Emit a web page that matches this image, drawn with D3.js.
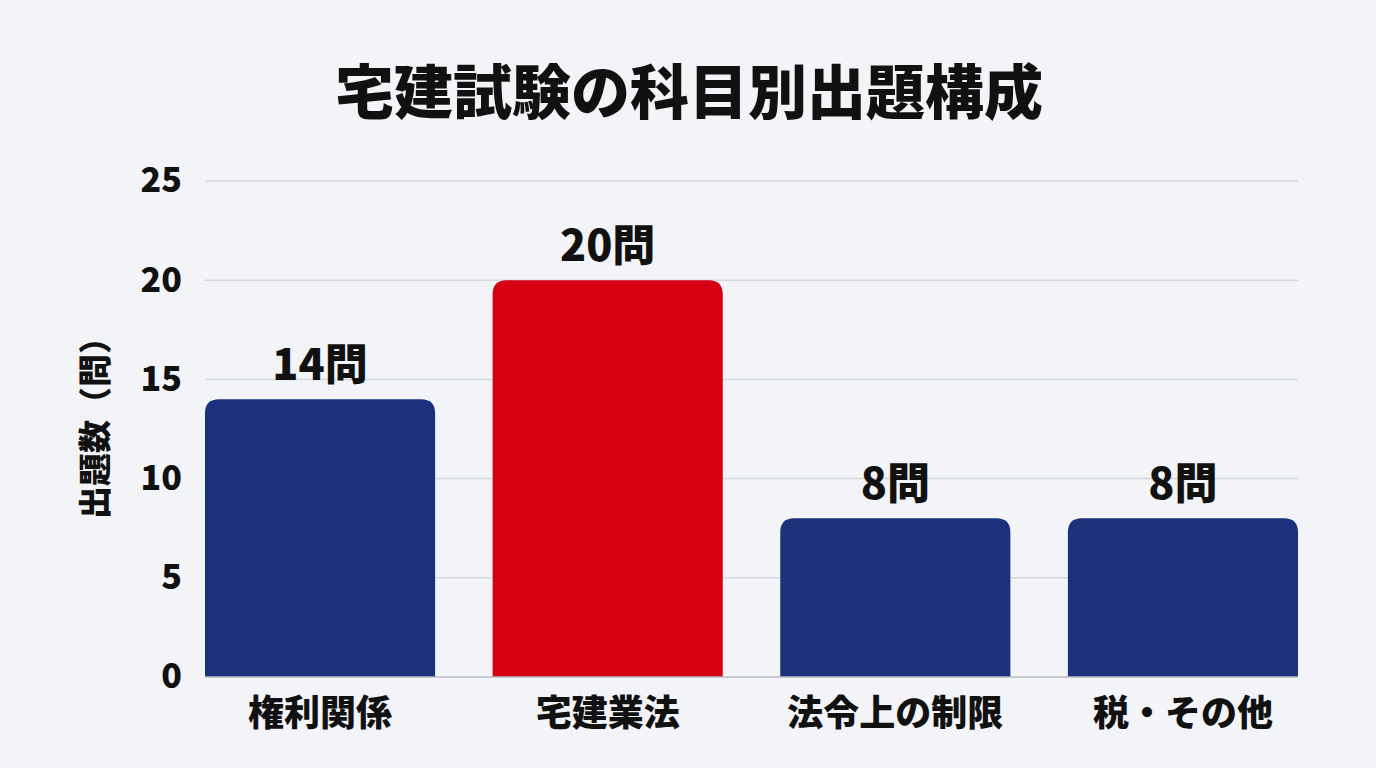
<!DOCTYPE html>
<html>
<head>
<meta charset="utf-8">
<script src="https://cdn.jsdelivr.net/npm/d3@7"></script>
<style>
  html, body { margin: 0; padding: 0; background: #f2f4f8; }
  svg { display: block; font-family: "Noto Sans CJK JP", "Noto Sans", sans-serif; }
</style>
</head>
<body>
<div id="container"></div>
<script>
const categories = ["権利関係", "宅建業法", "法令上の制限", "税・その他"];
const counts = [14, 20, 8, 8];
const yTicks = [0, 5, 10, 15, 20, 25];
const highlight = "宅建業法";

const width = 1376;
const height = 768;
const margin = { top: 181, right: 78, bottom: 91, left: 205 };

const svg = d3.select("#container").append("svg")
  .attr("width", width)
  .attr("height", height);

svg.append("rect").attr("width", width).attr("height", height).attr("fill", "#f2f4f8");

const x = d3.scaleBand()
  .domain(categories)
  .range([margin.left, width - margin.right])
  .paddingInner(0.2)
  .paddingOuter(0);

const y = d3.scaleLinear()
  .domain([0, 25])
  .range([height - margin.bottom, margin.top]);

// title
svg.append("text")
  .attr("x", width / 2 + 1)
  .attr("y", 114)
  .attr("text-anchor", "middle")
  .attr("font-size", 59)
  .attr("font-weight", 900)
  .attr("fill", "#111")
  .text("宅建試験の科目別出題構成");

// gridlines
svg.append("g")
  .selectAll("line")
  .data(yTicks.filter(d => d > 0))
  .join("line")
  .attr("x1", margin.left)
  .attr("x2", width - margin.right)
  .attr("y1", d => y(d))
  .attr("y2", d => y(d))
  .attr("stroke", "#d3d6dc")
  .attr("stroke-width", 1.5);

// y axis labels
const yAxis = d3.axisLeft(y).tickValues(yTicks).tickSize(0).tickPadding(23);
const gy = svg.append("g")
  .attr("transform", `translate(${margin.left},0)`)
  .call(yAxis);
gy.select(".domain").remove();
gy.selectAll("text")
  .attr("font-size", 34)
  .attr("font-weight", 900)
  .attr("fill", "#111")
  .attr("font-family", "\"Noto Sans CJK JP\", sans-serif");

// y axis title
svg.append("text")
  .attr("transform", `translate(107,${(margin.top + height - margin.bottom) / 2 - 9}) rotate(-90)`)
  .attr("text-anchor", "middle")
  .attr("font-size", 33)
  .attr("font-weight", 900)
  .attr("fill", "#111")
  .text("出題数（問）");

// bars with rounded tops
const r = 14;
function barPath(d, i) {
  const x0 = x(categories[i]);
  const x1 = x0 + x.bandwidth();
  const yt = y(d);
  const yb = y(0);
  return `M${x0},${yb}V${yt + r}Q${x0},${yt} ${x0 + r},${yt}H${x1 - r}Q${x1},${yt} ${x1},${yt + r}V${yb}Z`;
}

svg.append("g")
  .selectAll("path")
  .data(counts)
  .join("path")
  .attr("d", barPath)
  .attr("fill", (d, i) => categories[i] === highlight ? "#d50012" : "#1a327c");

// baseline
svg.append("line")
  .attr("x1", margin.left)
  .attr("x2", width - margin.right)
  .attr("y1", y(0))
  .attr("y2", y(0))
  .attr("stroke", "#b8bcc4")
  .attr("stroke-width", 1.5);

// value labels
svg.append("g")
  .selectAll("text")
  .data(counts)
  .join("text")
  .attr("x", (d, i) => x(categories[i]) + x.bandwidth() / 2)
  .attr("y", d => y(d) - 19)
  .attr("text-anchor", "middle")
  .attr("font-size", 43)
  .attr("font-weight", 900)
  .attr("fill", "#111")
  .text(d => d + "問");

// category labels
const xAxis = d3.axisBottom(x).tickSize(0).tickPadding(20);
const gx = svg.append("g")
  .attr("transform", `translate(0,${y(0)})`)
  .call(xAxis);
gx.select(".domain").remove();
gx.selectAll("text")
  .attr("font-size", 36)
  .attr("font-weight", 900)
  .attr("fill", "#111")
  .attr("dy", "0.8em")
  .attr("font-family", "\"Noto Sans CJK JP\", sans-serif");
</script>
</body>
</html>
